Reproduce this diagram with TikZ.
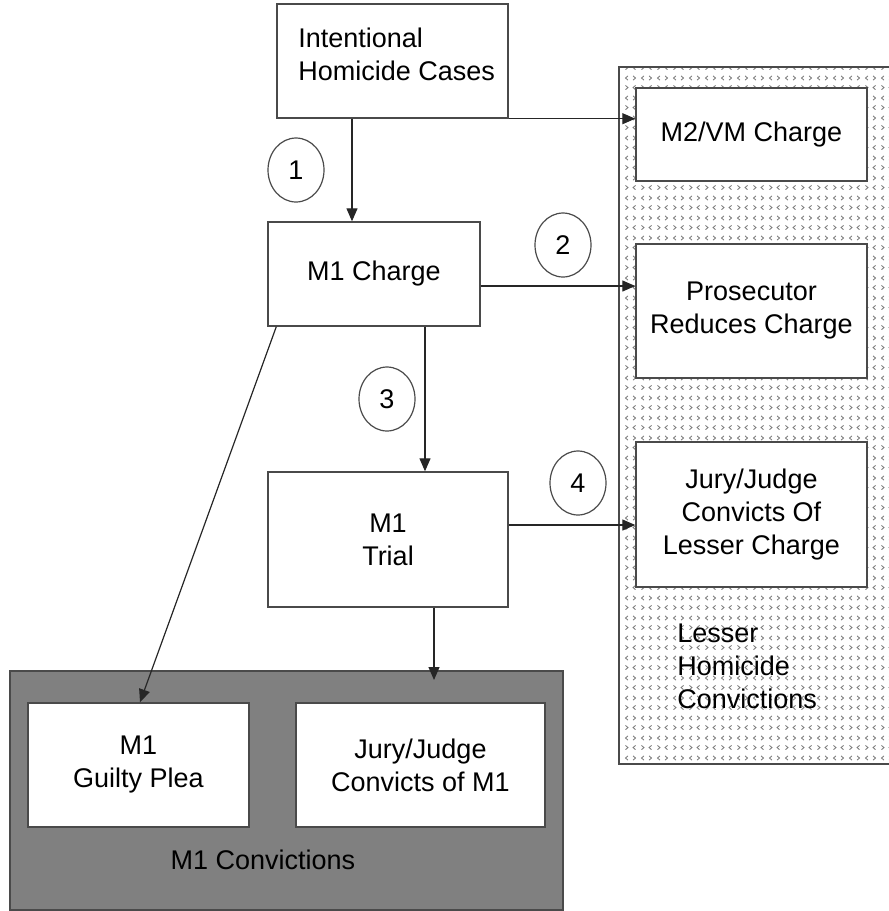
\documentclass[tikz,border=0pt]{standalone}
\usepackage{fontspec}
\setmainfont{Liberation Sans}
\usetikzlibrary{arrows.meta,patterns,shapes.geometric}

% small alternating chevrons used as the hatching of the lesser-convictions area
\pgfdeclarepatternformonly{chevrons}{\pgfqpoint{0pt}{0pt}}{\pgfqpoint{8pt}{10pt}}{\pgfqpoint{8pt}{10pt}}{%
  \pgfsetlinewidth{0.45pt}%
  \pgfpathmoveto{\pgfqpoint{0.8pt}{0.7pt}}\pgfpathlineto{\pgfqpoint{2.1pt}{1.8pt}}\pgfpathlineto{\pgfqpoint{0.8pt}{2.9pt}}%
  \pgfpathmoveto{\pgfqpoint{6.1pt}{0.7pt}}\pgfpathlineto{\pgfqpoint{4.8pt}{1.8pt}}\pgfpathlineto{\pgfqpoint{6.1pt}{2.9pt}}%
  \pgfpathmoveto{\pgfqpoint{2.1pt}{5.7pt}}\pgfpathlineto{\pgfqpoint{0.8pt}{6.8pt}}\pgfpathlineto{\pgfqpoint{2.1pt}{7.9pt}}%
  \pgfpathmoveto{\pgfqpoint{4.8pt}{5.7pt}}\pgfpathlineto{\pgfqpoint{6.1pt}{6.8pt}}\pgfpathlineto{\pgfqpoint{4.8pt}{7.9pt}}%
  \pgfusepath{stroke}%
}

\definecolor{linec}{HTML}{4A4A4A}
\definecolor{darkfill}{HTML}{808080}
\definecolor{hatch}{HTML}{7A7A7A}

\begin{document}
\begin{tikzpicture}[x=0.5pt,y=-0.5pt,
  font=\fontsize{13.5pt}{16.5pt}\selectfont,
  box/.style={draw=linec, line width=0.7pt, fill=white, rectangle, inner sep=0pt, align=center},
  zone/.style={draw=linec, line width=0.7pt, rectangle, inner sep=0pt},
  num/.style={draw=linec, line width=0.6pt, ellipse, minimum width=28pt, minimum height=32pt, inner sep=0pt},
  arr/.style={-{Triangle[length=6.5pt,width=5.5pt]}, line width=0.6pt, draw=black!85}]

\useasboundingbox (0,0) rectangle (889,911);

% background areas (the hatched one runs past the right edge)
\node[zone, pattern=chevrons, pattern color=hatch, minimum width=141pt, minimum height=348.5pt] (lesserzone) at (760,415.5) {};
\node[zone, fill=darkfill, minimum width=276.5pt, minimum height=119.5pt] (convzone) at (286.5,790.5) {};

% process boxes
\node[box, minimum width=115.5pt, minimum height=57pt] (ihc) at (392.5,61) {};
\node[anchor=west, align=left, inner sep=0pt] (ihctext) at (298,54) {Intentional\\Homicide Cases};
\node[box, minimum width=106pt, minimum height=52pt] (m1c) at (374,274) {M1 Charge};
\node[box, minimum width=120pt, minimum height=67.5pt] (trial) at (388,539.5) {M1\\Trial};

\node[box, minimum width=115.5pt, minimum height=46.5pt] (m2) at (751.5,134.5) {M2/VM Charge};
\node[box, minimum width=115.5pt, minimum height=67pt] (pros) at (751.5,311) {Prosecutor\\Reduces Charge};
\node[box, minimum width=115.5pt, minimum height=72.5pt] (jl) at (751.5,514.5) {Jury/Judge\\Convicts Of\\Lesser Charge};

\node[box, minimum width=110.5pt, minimum height=62pt] (guilty) at (138.5,765) {M1\\Guilty Plea};
\node[box, minimum width=124.5pt, minimum height=62pt] (jm1) at (420.5,765) {Jury/Judge\\Convicts of M1};

% area captions
\node[anchor=west, align=left, inner sep=0pt] (lessertext) at (677,666) {Lesser\\Homicide\\Convictions};
\node[inner sep=0pt] (convtext) at (263,860) {M1 Convictions};

% numbered decision points
\node[num] (n1) at (296,170) {1};
\node[num] (n2) at (563,245) {2};
\node[num] (n3) at (387,399) {3};
\node[num] (n4) at (578,483) {4};

% connectors
\coordinate (convtip) at (434,680);
\draw[arr] ([xshift=-20.25pt]ihc.south) -- ([xshift=-20.25pt]ihc.south |- m1c.north);
\draw[arr] (ihc.south east) -- (ihc.south east -| m2.west);
\draw[arr] ([yshift=-6pt]m1c.east) -- ([yshift=-6pt]m1c.east -| pros.west);
\draw[arr] ([xshift=25.5pt]m1c.south) -- ([xshift=25.5pt]m1c.south |- trial.north);
\draw[arr] ([yshift=7.25pt]trial.east) -- ([yshift=7.25pt]trial.east -| jl.west);
\draw[arr] ([xshift=23pt]trial.south) -- (convtip);
\draw[arr] ([xshift=4.5pt]m1c.south west) -- ([xshift=0.75pt]guilty.north);

\end{tikzpicture}
\end{document}
